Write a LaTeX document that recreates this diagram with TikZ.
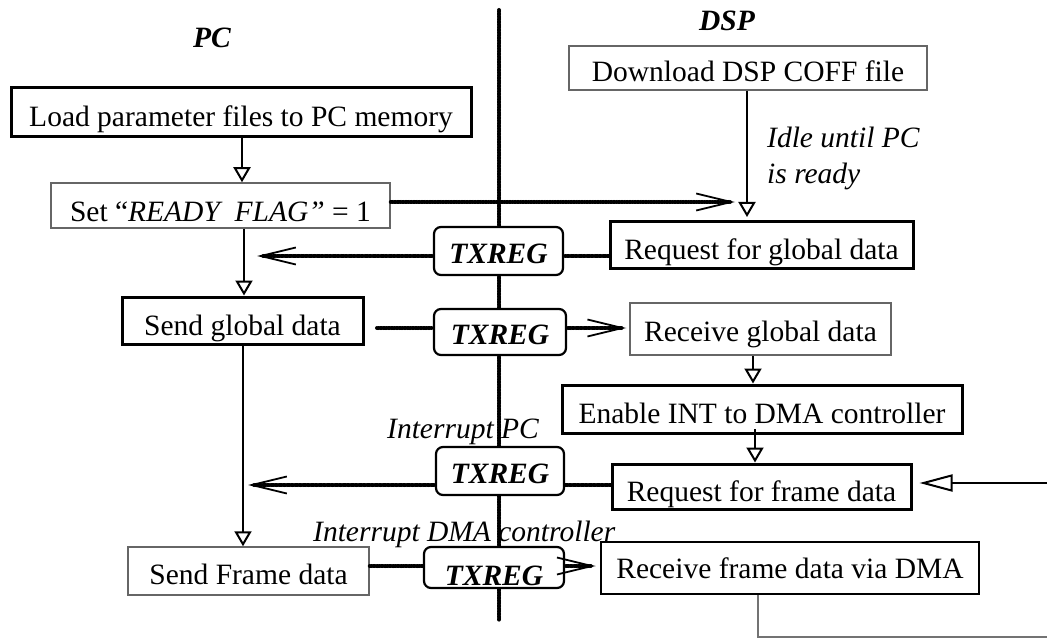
\documentclass[tikz,border=0pt]{standalone}
\usepackage{fontspec}
\setmainfont{Liberation Serif}
\usetikzlibrary{arrows.meta}
\begin{document}
\begin{tikzpicture}[x=1pt,y=-1pt,
  every node/.style={font=\fontsize{29.5}{36}\selectfont, inner xsep=0pt, inner ysep=0pt},
  box/.style={draw, fill=white, anchor=base, minimum width=#1},
  thickbox/.style={box=#1, line width=3pt},
  thinbox/.style={box=#1, line width=1.5pt, draw=black!60},
  regbox/.style={box=#1, line width=2.2pt, rounded corners=7pt,
    font=\fontsize{29.5}{36}\selectfont\bfseries\itshape},
  head/.style={anchor=base, font=\fontsize{29.5}{36}\selectfont\bfseries\itshape},
  note/.style={anchor=base west, font=\fontsize{29.5}{36}\selectfont\itshape},
  flow/.style={line width=2pt, -{Triangle[open, length=15pt, width=17pt, line width=2pt]}},
  conn/.style={line width=4pt, line cap=round, dash pattern=on 0pt off 1.6pt},
  barb/.style={conn, -{Straight Barb[length=35pt, width=17pt, line width=1.8pt, line cap=butt]}},
]
\useasboundingbox (0,0) rectangle (1047,639);

% column headings
\node[head] (pc) at (212,48) {PC};
\node[head] (dsp) at (727,31) {DSP};

% interrupt labels (partly covered by the boxes drawn later)
\node[note] (ipc) at (387,438) {Interrupt PC};
\node[note] (idma) at (313,541) {Interrupt DMA controller};
\node[note] (idle1) at (767,148) {Idle until PC};
\node[note] (idle2) at (767,184) {is ready};

% PC / DSP boundary
\coordinate (btop) at (499,10);
\coordinate (bbot) at (499,620);
\draw[conn] (btop) -- (bbot);

% PC side
\node[thickbox=460, text height=39pt, text depth=10pt] (load) at (241,127) {Load parameter files to PC memory};
\node[thinbox=339, text height=39pt, text depth=6pt] (flag) at (220.5,222) {Set “\textit{READY\ \ FLAG”} = 1};
\node[thickbox=241, text height=38pt, text depth=9pt] (sg) at (242.5,335) {Send global data};
\node[thinbox=241, text height=37pt, text depth=11pt] (sf) at (248.5,584) {Send Frame data};

% DSP side
\node[thinbox=358, text height=36pt, text depth=8pt] (dl) at (748,82) {Download DSP COFF file};
\node[thickbox=303, text height=37pt, text depth=9pt] (rg) at (761.5,259) {Request for global data};
\node[thinbox=261, text height=38pt, text depth=14pt] (rcg) at (760.5,341) {Receive global data};
\node[thickbox=400, text height=38pt, text depth=10pt] (en) at (762,423) {Enable INT to DMA controller};
\node[thickbox=299, text height=37pt, text depth=8pt] (rfr) at (761.5,501) {Request for frame data};
\node[thickbox=378, line width=2.5pt, text height=36pt, text depth=16pt] (rfd) at (790,578) {Receive frame data via DMA};

% transmit registers on the boundary
\node[regbox=129, text height=36pt, text depth=12pt] (t1) at (498.5,263) {TXREG};
\node[regbox=132, text height=35pt, text depth=11pt] (t2) at (500,344) {TXREG};
\node[regbox=128, text height=36pt, text depth=12pt] (t3) at (500,483) {TXREG};
\node[regbox=140, text height=38pt, text depth=3pt] (t4) at (494,585) {TXREG};

% reference points
\coordinate (xa) at (242,0);
\coordinate (xb) at (244,0);
\coordinate (xc) at (243,0);
\coordinate (xd) at (753,0);
\coordinate (ready) at (735,202);
\coordinate (idle) at (747,217);
\coordinate (pcA) at (257,256);
\coordinate (sgo) at (377,328);
\coordinate (pcB) at (248,485);
\coordinate (yfd) at (0,566);
\coordinate (enb) at (755,429);
\coordinate (redge) at (1047,483);
\coordinate (lp1) at (758,637);
\coordinate (lp2) at (1047,637);

% PC flow
\draw[flow] (load.south -| xa) -- (flag.north -| xa);
\draw[flow] (flag.south -| xb) -- (sg.north -| xb);
\draw[flow] (sg.south -| xc) -- (sf.north -| xc);

% DSP flow
\draw[flow] (dl.south -| idle) -- (idle);
\draw[flow] (rcg.south -| xd) -- (en.north -| xd);
\draw[flow] (enb) -- (rfr.north -| enb);
\draw[line width=2pt, -{Triangle[open, length=33pt, width=17pt, line width=2pt]}, shorten >=7pt]
  (redge) -- (rfr.east |- redge);
\draw[line width=1.3pt, black!55] (rfd.south -| lp1) -- (lp1) -- (lp2);

% messages across the boundary
\draw[barb] (flag.east |- ready) -- (ready);
\draw[conn] (rg.west |- pcA) -- (t1.east |- pcA);
\draw[barb] (t1.west |- pcA) -- (pcA);
\draw[conn] (sgo) -- (t2.west |- sgo);
\draw[barb, shorten >=3pt] (t2.east |- sgo) -- (rcg.west |- sgo);
\draw[conn] (rfr.west |- pcB) -- (t3.east |- pcB);
\draw[barb] (t3.west |- pcB) -- (pcB);
\draw[conn] (sf.east |- yfd) -- (t4.west |- yfd);
\draw[barb, shorten >=4pt] (t4.east |- yfd) -- (rfd.west |- yfd);
\end{tikzpicture}
\end{document}
